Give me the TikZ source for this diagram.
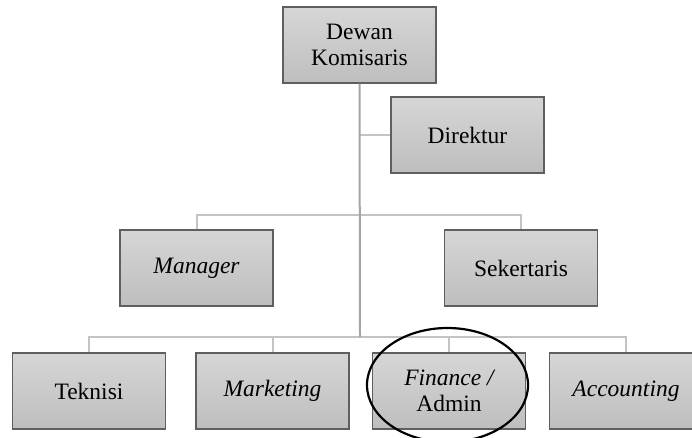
\documentclass[tikz,border=0pt]{standalone}
\usepackage{fontspec}
\setmainfont{Liberation Serif}
\usetikzlibrary{shapes.geometric}
\definecolor{boxtop}{RGB}{214,214,214}
\definecolor{boxbot}{RGB}{190,190,190}
\definecolor{boxline}{RGB}{95,95,95}
\definecolor{trunk}{RGB}{165,165,165}
\definecolor{branch}{RGB}{195,195,195}
\tikzset{
  orgbox/.style={draw=boxline, line width=1.2pt, top color=boxtop, bottom color=boxbot,
    minimum width=153pt, minimum height=76pt, inner sep=0pt, align=center,
    font=\fontsize{23.5}{25.5}\selectfont},
  trunkline/.style={draw=trunk, line width=2pt},
  branchline/.style={draw=branch, line width=2pt},
  ringstyle/.style={draw=black, line width=2.2pt}
}
\begin{document}
\begin{tikzpicture}[x=1pt,y=-1pt]
\useasboundingbox (0,0) rectangle (692,437);
\clip (0,0) rectangle (692,437);
\coordinate (mbus) at (360,215);
\coordinate (bbus) at (360,337);
\node[orgbox] (dk) at (359.5,45) {Dewan\\Komisaris};
\node[orgbox] (dir) at (467.5,135) {Direktur};
\node[orgbox] (mgr) at (196.5,268) {\itshape Manager};
\node[orgbox] (sek) at (521,268) {Sekertaris};
\node[orgbox] (tek) at (89,391) {Teknisi};
\node[orgbox] (mkt) at (272.5,391) {\itshape Marketing};
\node[orgbox] (fin) at (449,391) {{\itshape Finance /}\\Admin};
\node[orgbox] (acc) at (626,391) {\itshape Accounting};
\draw[branchline] (dk.south |- dir.west) -- (dir.west);
\draw[branchline] (mgr.north) |- (mbus) -| (sek.north);
\draw[branchline] (tek.north) |- (bbus) -| (acc.north);
\draw[branchline] (mkt.north) -- (mkt.north |- bbus);
\draw[branchline] (fin.north) -- (fin.north |- bbus);
\draw[trunkline] (dk.south) -- (bbus);
\node[ringstyle, ellipse, minimum width=161pt, minimum height=114pt, inner sep=0pt] (ring) at (447.5,385) {};
\end{tikzpicture}
\end{document}
